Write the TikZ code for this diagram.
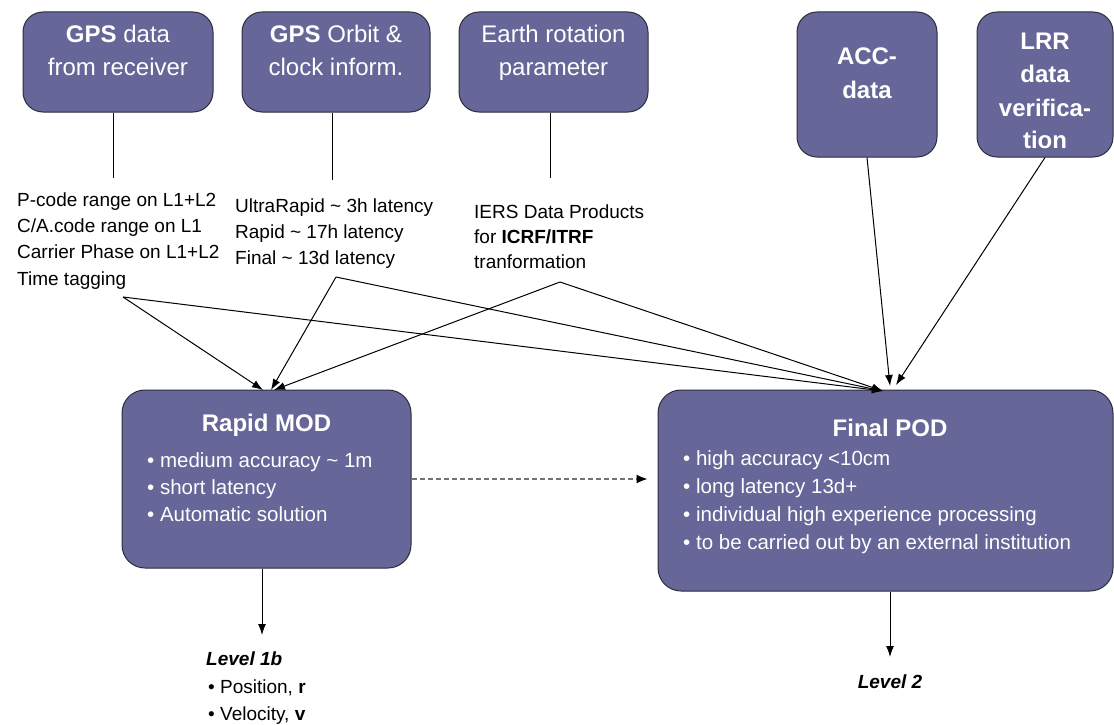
\documentclass[tikz,border=0pt]{standalone}
\usepackage{fontspec}
\setmainfont{Liberation Sans}
\usetikzlibrary{arrows.meta,calc}
\definecolor{boxfill}{RGB}{102,102,153}
\definecolor{boxline}{RGB}{45,45,60}
\begin{document}
\begin{tikzpicture}[x=1pt,y=-1pt,
  box/.style={draw=boxline, line width=1pt, fill=boxfill, rounded corners=20pt, inner sep=0pt},
  btxt/.style={text=white, inner sep=0pt, anchor=base, font=\fontsize{24}{28}\selectfont},
  bttl/.style={text=white, inner sep=0pt, anchor=base, font=\fontsize{24}{28}\selectfont\bfseries},
  bul/.style={text=white, inner sep=0pt, anchor=base west, font=\fontsize{20.5}{24}\selectfont},
  lab/.style={text=black, inner sep=0pt, anchor=base west, font=\fontsize{19}{23}\selectfont},
  conn/.style={line width=1pt, draw=black},
  arr/.style={conn, -{Latex[length=11pt,width=8pt]}},
  darr/.style={line width=1.2pt, draw=black!55, dash pattern=on 5pt off 3pt, -{Latex[length=11pt,width=9pt,color=black]}}
]
\useasboundingbox (0,0) rectangle (1114,725);

% top boxes
\node[box, minimum width=190pt, minimum height=100pt] (gpsd) at (118,62) {};
\node[box, minimum width=188pt, minimum height=100pt] (gpso) at (336,62) {};
\node[box, minimum width=189pt, minimum height=100pt] (erp) at (553.5,62) {};
\node[box, minimum width=140pt, minimum height=145pt] (acc) at (867,84.5) {};
\node[box, minimum width=136pt, minimum height=145pt] (lrr) at (1045,84.5) {};

\node[btxt] (gpsd1) at (118,43) {\textbf{GPS} data};
\node[btxt] (gpsd2) at (118,76) {from receiver};
\node[btxt] (gpso1) at (336,43) {\textbf{GPS} Orbit \&};
\node[btxt] (gpso2) at (336,76) {clock inform.};
\node[btxt] (erp1) at (553.5,43) {Earth rotation};
\node[btxt] (erp2) at (553.5,76) {parameter};
\node[bttl] (acc1) at (867,65) {ACC-};
\node[bttl] (acc2) at (867,99) {data};
\node[bttl] (lrr1) at (1045,50) {LRR};
\node[bttl] (lrr2) at (1045,83) {data};
\node[bttl] (lrr3) at (1045,116) {verifica-};
\node[bttl] (lrr4) at (1045,148) {tion};

% main boxes
\node[box, rounded corners=23pt, minimum width=289pt, minimum height=178pt] (rapid) at (266.5,479) {};
\node[box, rounded corners=23pt, minimum width=455pt, minimum height=201pt] (final) at (885.5,490.5) {};

\node[bttl] (rapidt) at (266.5,431) {Rapid MOD};
\node[bul] (rb1) at (147,467) {• medium accuracy \textasciitilde\ 1m};
\node[bul] (rb2) at (147,494) {• short latency};
\node[bul] (rb3) at (147,521) {• Automatic solution};

\node[bttl] (finalt) at (890,436) {Final POD};
\node[bul] (fb1) at (683,465) {• high accuracy <10cm};
\node[bul] (fb2) at (683,493) {• long latency 13d+};
\node[bul] (fb3) at (683,521) {• individual high experience processing};
\node[bul] (fb4) at (683,549) {• to be carried out by an external institution};

% labels
\node[lab] (p1) at (17,206) {P-code range on L1+L2};
\node[lab] (p2) at (17,232.3) {C/A.code range on L1};
\node[lab] (p3) at (17,258.6) {Carrier Phase on L1+L2};
\node[lab] (p4) at (17,285) {Time tagging};

\node[lab] (o1) at (235,212) {UltraRapid \textasciitilde\ 3h latency};
\node[lab] (o2) at (235,238) {Rapid \textasciitilde\ 17h latency};
\node[lab] (o3) at (235,264) {Final \textasciitilde\ 13d latency};

\node[lab] (e1) at (474,218) {IERS Data Products};
\node[lab] (e2) at (474,243) {for \textbf{ICRF/ITRF}};
\node[lab] (e3) at (474,268) {tranformation};

\node[lab, font=\fontsize{19}{23}\selectfont\bfseries\itshape] (lv1b) at (206,665) {Level 1b};
\node[lab] (pos) at (208,693) {• Position, \textbf{r}};
\node[lab] (vel) at (208,720) {• Velocity, \textbf{v}};
\node[lab, anchor=base, font=\fontsize{19}{23}\selectfont\bfseries\itshape] (lv2) at (890,688) {Level 2};

% coordinates
\coordinate (v1) at (113,178);
\coordinate (v2) at (332,180);
\coordinate (v3) at (550,178);
\coordinate (a1) at (123,297);
\coordinate (a2) at (336,277);
\coordinate (a3) at (560,282);
\coordinate (r1) at (263,390);
\coordinate (r2) at (271,390);
\coordinate (r3) at (274,390);
\coordinate (f1) at (883,391);
\coordinate (f4) at (890,386);
\coordinate (f5) at (896,385);
\coordinate (d1) at (262,635);
\coordinate (d2) at (890,657);

% connectors
\draw[conn] (v1 |- gpsd.south) -- (v1);
\draw[conn] (v2 |- gpso.south) -- (v2);
\draw[conn] (v3 |- erp.south) -- (v3);

\draw[arr] (a1) -- (r1);
\draw[arr] (a2) -- (r2);
\draw[arr] (a3) -- (r3);
\draw[arr] (a1) -- (f1);
\draw[arr] (a2) -- (f1);
\draw[arr] (a3) -- (f1);
\draw[arr] (acc.south) -- (f4);
\draw[arr] (lrr.south) -- (f5);

\draw[darr] (rapid.east) -- ($(rapid.east -| final.west)+(-10,0)$);
\draw[arr] (d1 |- rapid.south) -- (d1);
\draw[arr] (d2 |- final.south) -- (d2);
\end{tikzpicture}
\end{document}
